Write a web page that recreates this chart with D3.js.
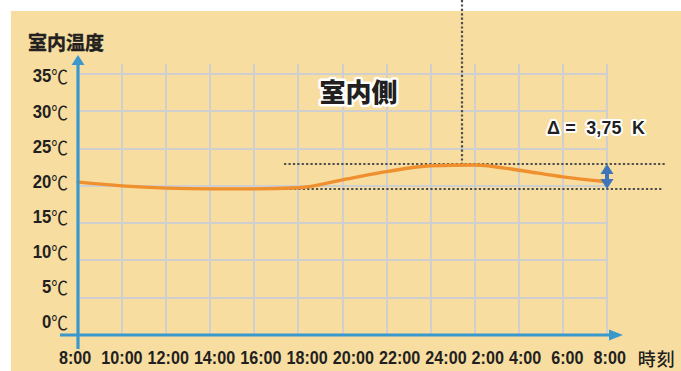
<!DOCTYPE html>
<html><head><meta charset="utf-8">
<script src="https://cdn.jsdelivr.net/npm/d3@7"></script>
<style>
html,body{margin:0;padding:0;background:#fff;}
svg{display:block;}
</style></head><body>
<svg id="chart" width="681" height="371"></svg>
<script>
// ---- data ----
const hours = [0,2,4,6,8,10,12,14,16,18,20,22,24];            // hours since 8:00
const timeLabels = ["8:00","10:00","12:00","14:00","16:00","18:00","20:00","22:00","24:00","2:00","4:00","6:00","8:00"];
const doubleGapAfter = [0,10,11];
const indoorTemp = [20.5,20.0,19.7,19.6,19.6,19.75,20.8,21.9,22.7,22.8,22.1,21.2,20.55];
const tempTicks = [0,5,10,15,20,25,30,35];
const tempUnit = "℃";
const deltaHigh = 22.9, deltaLow = 19.6;
const deltaHighSpan = [9.35, 26.7];
const deltaLowSpan = [9.0, 26.5];
const peakHour = 17.4;
const deltaLabel = "Δ =  3,75  K";
const yTitle = "室内温度";
const xTitle = "時刻";
const sideLabel = "室内側";

// ---- setup ----
const svg = d3.select("#chart");
const W = 681, H = 371;
const ink = "#231F20";
const numFont = "'Liberation Sans', Arial, sans-serif";
const cjkFont = "'Noto Sans CJK JP', 'Noto Sans CJK SC', sans-serif";

const x = d3.scaleLinear().domain([0,24]).range([78,607]);
const y = d3.scaleLinear().domain([0,35]).range([335,74]);
const yLab = d3.scaleLinear().domain([0,35]).range([322,76]);

svg.append("rect").attr("width",W).attr("height",H).attr("fill","#fff");
svg.append("rect").attr("x",11).attr("y",11).attr("width",W-11).attr("height",H-11).attr("fill","#F7DDA0");

// grid
const grid = svg.append("g").attr("stroke","#CFCFCF").attr("stroke-width",2);
grid.selectAll("line.v").data(hours).join("line").attr("class","v")
  .attr("x1",d=>Math.round(x(d))).attr("x2",d=>Math.round(x(d))).attr("y1",y(35)-10).attr("y2",y(0));
grid.selectAll("line.h").data(tempTicks.filter(t=>t>0)).join("line").attr("class","h")
  .attr("x1",x(0)).attr("x2",x(24)+1).attr("y1",d=>Math.round(y(d))).attr("y2",d=>Math.round(y(d)));

// dotted annotation lines
function dotted(x1,y1,x2,y2){
  svg.append("line").attr("x1",x1).attr("y1",y1).attr("x2",x2).attr("y2",y2)
    .attr("stroke","#4D4D4D").attr("stroke-width",2.2).attr("stroke-dasharray","2.2,2.2");
}
dotted(x(deltaHighSpan[0]), Math.round(y(deltaHigh)), x(deltaHighSpan[1]), Math.round(y(deltaHigh)));
dotted(x(deltaLowSpan[0]), Math.round(y(deltaLow)), x(deltaLowSpan[1]), Math.round(y(deltaLow)));
dotted(Math.round(x(peakHour)), 0, Math.round(x(peakHour)), Math.round(y(deltaHigh)));

// curve
const line = d3.line().x((d,i)=>x(hours[i])).y(d=>y(d)).curve(d3.curveMonotoneX);
svg.append("path").datum(indoorTemp).attr("d",line)
  .attr("fill","none").attr("stroke","#EF8F2D").attr("stroke-width",3.4).attr("stroke-linecap","round");

// double arrow
(function(){
  const ax = x(24), y1 = Math.round(y(deltaHigh)), y2 = Math.round(y(deltaLow));
  const g = svg.append("g").attr("fill","#3D74BA");
  g.append("rect").attr("x",ax-2).attr("y",y1+6).attr("width",4).attr("height",(y2-y1)-12);
  g.append("path").attr("d",`M${ax},${y1} L${ax-6.5},${y1+10} L${ax+6.5},${y1+10} Z`);
  g.append("path").attr("d",`M${ax},${y2} L${ax-6.5},${y2-10} L${ax+6.5},${y2-10} Z`);
})();

// axes
const axisC = "#3A98CD";
svg.append("line").attr("x1",x(0)).attr("x2",x(0)).attr("y1",y(0)+14).attr("y2",y(35)-12)
  .attr("stroke",axisC).attr("stroke-width",3.2);
svg.append("path").attr("d",`M${x(0)},${y(35)-19} L${x(0)-6.5},${y(35)-9} L${x(0)+6.5},${y(35)-9} Z`).attr("fill",axisC);
svg.append("line").attr("x1",x(0)-18).attr("x2",x(24)+5).attr("y1",y(0)).attr("y2",y(0))
  .attr("stroke",axisC).attr("stroke-width",3.2);
svg.append("path").attr("d",`M${x(24)+16},${y(0)} L${x(24)+2},${y(0)-5.5} L${x(24)+2},${y(0)+5.5} Z`).attr("fill",axisC);

// y tick labels
const yl = svg.append("g");
tempTicks.forEach(t=>{
  const tx = yl.append("text")
    .attr("transform",`translate(68,${yLab(t)}) scale(0.88,1)`)
    .attr("text-anchor","end").attr("dominant-baseline","central")
    .attr("fill",ink).attr("font-family",numFont).attr("font-weight","bold").attr("font-size",19);
  tx.append("tspan").text(t);
  tx.append("tspan").attr("font-family",cjkFont).attr("font-weight","normal").attr("font-size",19).text(tempUnit);
});

// x tick labels (flowing row, as typeset in original)
const xs = 0.85;
let cursor = x(0) - 19;
const xl = svg.append("g");
timeLabels.forEach((lab,i)=>{
  const t = xl.append("text")
    .attr("transform",`translate(${cursor},358) scale(${xs},1)`)
    .attr("dominant-baseline","central")
    .attr("fill",ink).attr("font-family",numFont).attr("font-weight","bold").attr("font-size",19)
    .text(lab);
  const w = t.node().getComputedTextLength()*xs;
  cursor += w + (doubleGapAfter.includes(i) ? 10 : 5);
});
svg.append("text").attr("x",cursor+7).attr("y",358).attr("dominant-baseline","central")
  .attr("fill",ink).attr("font-family",cjkFont).attr("font-weight",500).attr("font-size",18)
  .attr("letter-spacing",1).text(xTitle);

// y title
svg.append("text").attr("x",28).attr("y",41).attr("dominant-baseline","central")
  .attr("fill",ink).attr("stroke",ink).attr("stroke-width",0.4)
  .attr("font-family",cjkFont).attr("font-weight","bold").attr("font-size",19).text(yTitle);

// side label
svg.append("text").attr("x",358.5).attr("y",90).attr("text-anchor","middle").attr("dominant-baseline","central")
  .attr("fill",ink).attr("stroke","#fff").attr("stroke-width",5).attr("paint-order","stroke").attr("stroke-linejoin","round")
  .attr("font-family",cjkFont).attr("font-weight",900).attr("font-size",26).text(sideLabel);

// delta label
svg.append("text").attr("x",547).attr("y",128).attr("dominant-baseline","central")
  .style("white-space","pre")
  .attr("textLength",98).attr("lengthAdjust","spacing")
  .attr("fill",ink).attr("stroke","#fff").attr("stroke-width",4).attr("paint-order","stroke").attr("stroke-linejoin","round")
  .attr("font-family",numFont).attr("font-weight","bold").attr("font-size",18).text(deltaLabel);
</script>
</body></html>
